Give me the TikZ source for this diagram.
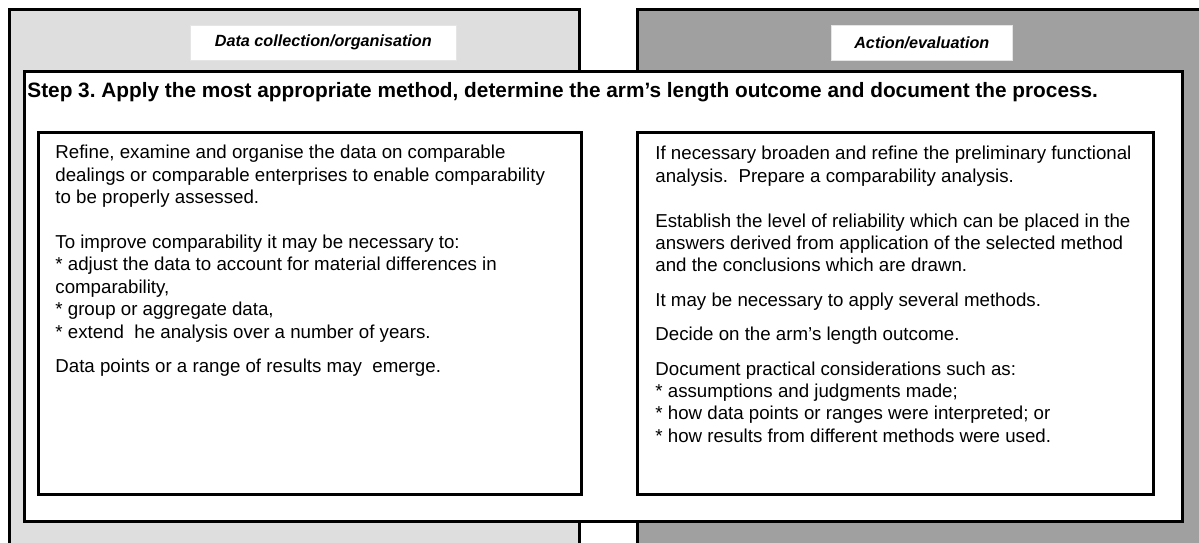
\documentclass[tikz,border=0pt]{standalone}
\usepackage{fontspec}
\setmainfont{Liberation Sans}
\usetikzlibrary{positioning}
\definecolor{lightpanel}{HTML}{DEDEDE}
\definecolor{darkpanel}{HTML}{A0A0A0}
\frenchspacing

\begin{document}
\begin{tikzpicture}[
    x=0.5pt, y=-0.5pt,
    panel/.style={rectangle, draw, line width=1.5pt, anchor=north west, minimum height=280pt, inner sep=0pt},
    tag/.style={rectangle, fill=white, draw=black!10, line width=0.3pt, anchor=north west, minimum height=17.5pt, inner sep=0pt, font=\fontsize{8.1}{9}\selectfont\bfseries\itshape},
    frame/.style={rectangle, draw, fill=white, line width=1.5pt, anchor=north west, inner sep=0pt},
    body/.style={anchor=north west, align=left, inner sep=0pt, font=\fontsize{9.35}{11.2}\selectfont}
]
\clip (0,0) rectangle (1199,542);
% background columns
\node[panel, fill=lightpanel, minimum width=285pt] (collect) at (8,8) {};
\node[panel, fill=darkpanel, minimum width=300pt] (action) at (636,8) {};
\node[tag, minimum width=133pt] (collecttag) at (190,25) {Data collection/organisation};
\node[tag, minimum width=90.5pt] (actiontag) at (831,25) {Action/evaluation};
% step box
\node[frame, minimum width=579pt, minimum height=225pt] (step) at (23,70) {};
\node[anchor=west, inner sep=0pt, font=\fontsize{10.4}{12}\selectfont\bfseries] (steptitle) at (27,92)
    {Step 3. Apply the most appropriate method, determine the arm’s length outcome and document the process.};
\node[frame, minimum width=271.5pt, minimum height=181pt] (datbox) at (37,131) {};
\node[frame, minimum width=258pt, minimum height=181pt] (actbox) at (636,131) {};
% texts
\node[body] (dattext) at (55,145) {Refine, examine and organise the data on comparable\\
    dealings or comparable enterprises to enable comparability\\
    to be properly assessed.\\[11.2pt]
    To improve comparability it may be necessary to:\\
    * adjust the data to account for material differences in\\
    comparability,\\
    * group or aggregate data,\\
    * extend~ he analysis over a number of years.\\[5.8pt]
    Data points or a range of results may~ emerge.};
\node[body] (acttext) at (655,146) {If necessary broaden and refine the preliminary functional\\
    analysis.~ Prepare a comparability analysis.\\[11.2pt]
    Establish the level of reliability which can be placed in the\\
    answers derived from application of the selected method\\
    and the conclusions which are drawn.\\[6pt]
    It may be necessary to apply several methods.\\[6pt]
    Decide on the arm’s length outcome.\\[6pt]
    Document practical considerations such as:\\
    * assumptions and judgments made;\\
    * how data points or ranges were interpreted; or\\
    * how results from different methods were used.};
\end{tikzpicture}
\end{document}
